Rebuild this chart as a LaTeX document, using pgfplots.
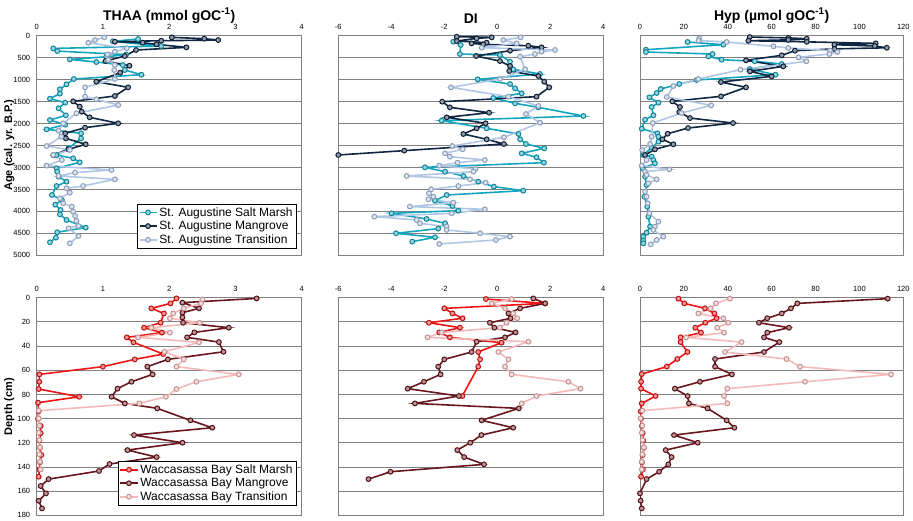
\documentclass[border=0pt]{standalone}
\usepackage{pgfplots}
\pgfplotsset{compat=1.18}
\usepackage{fontspec}
\setmainfont{Liberation Sans}
\definecolor{SAsm}{RGB}{20,166,190}
\definecolor{SAmg}{RGB}{16,38,66}
\definecolor{SAtr}{RGB}{176,198,228}
\definecolor{WBsm}{RGB}{240,20,20}
\definecolor{WBmg}{RGB}{105,22,28}
\definecolor{WBtr}{RGB}{245,185,185}
\pgfplotsset{
  panel/.style={
    scale only axis, y dir=reverse,
    xticklabel pos=top,
    major tick length=0pt,
    ymajorgrids, grid style={black!50, line width=0.8pt},
    axis line style={black!50, line width=0.8pt},
    tick label style={font=\fontsize{7.5}{9}\selectfont},
    xticklabel style={yshift=3pt},
    yticklabel style={xshift=-3pt},
    /pgf/number format/assume math mode=true,
    /pgf/number format/1000 sep={},
    title style={font=\fontsize{14}{16}\selectfont\bfseries, yshift=3pt},
    ylabel style={font=\fontsize{11}{13}\selectfont\bfseries, at={(axis description cs:-0.103,0.5)}, anchor=center},
    legend style={font=\fontsize{12}{13}\selectfont, draw=black, line width=0.6pt, cells={anchor=west}, inner sep=1.5pt, row sep=-0.5pt},
    legend cell align=left,
  },
  toprow/.style={panel, width=265pt, height=219.6pt, ymin=0, ymax=5000, ytick={0,500,...,5000}},
  botrow/.style={panel, width=265pt, height=217.7pt, ymin=0, ymax=180, ytick={0,20,...,180}},
  ser/.style={color=#1, line width=1.6pt, mark=*, mark size=2.4pt, mark options={solid, line width=1pt, fill=#1!45!white, draw=#1!80!black}},
}
\begin{document}
\begin{tikzpicture}
\path[use as bounding box] (0,0) rectangle (913pt,-521pt);

% ---------------- TOP ROW ----------------
\begin{axis}[toprow, at={(36.7pt,-35.7pt)}, anchor=north west,
  xmin=0, xmax=4, xtick={0,1,2,3,4},
  title={THAA (mmol gOC\textsuperscript{-1})},
  ylabel={Age (cal. yr. B.P.)},
  legend style={at={(0.98,0.03)}, anchor=south east}]
\addplot[ser=SAsm] coordinates {(1.53,76)(1.15,128)(1.88,235)(0.25,290)(0.31,350)(1.35,430)(1.05,480)(0.5,540)(0.9,600)(1.3,668)(1.33,781)(1.58,888)(0.56,986)(0.45,1108)(0.35,1221)(0.35,1320)(0.2,1434)(0.43,1525)(0.33,1654)(0.44,1813)(0.2,1920)(0.43,2026)(0.15,2132)(0.67,2223)(0.67,2337)(0.48,2564)(0.3,2716)(0.55,2792)(0.65,2883)(0.3,3020)(0.31,3096)(0.33,3209)(0.45,3323)(0.3,3422)(0.23,3627)(0.38,3740)(0.28,3847)(0.36,3968)(0.35,4067)(0.45,4196)(0.74,4370)(0.31,4476)(0.29,4598)(0.2,4704)};
\addlegendentry{St. Augustine Salt Marsh}
\addplot[ser=SAmg] coordinates {(2.04,38)(2.53,68)(2.74,99)(1.88,114)(1.18,137)(1.6,160)(1.81,197)(2.26,266)(1.5,326)(1.33,463)(1.04,577)(1.4,683)(1.26,842)(0.9,1047)(1.38,1176)(1.18,1373)(0.55,1495)(0.65,1616)(0.68,1730)(0.8,1859)(1.23,1995)(0.73,2094)(0.43,2223)(0.44,2337)(0.74,2473)(0.48,2587)(0.25,2720)};
\addlegendentry{St. Augustine Mangrove}
\addplot[ser=SAtr] coordinates {(1.02,38)(0.88,99)(0.78,160)(1.36,288)(1.18,364)(1.07,425)(1.08,554)(1.18,668)(1.17,781)(1.18,986)(0.73,1176)(0.73,1388)(0.9,1449)(1.23,1578)(0.6,1768)(0.4,1995)(0.33,2162)(0.37,2299)(0.15,2511)(0.5,2602)(0.25,2716)(0.38,2830)(0.15,2959)(1.13,3058)(0.58,3118)(0.33,3194)(1.18,3270)(0.7,3422)(0.45,3475)(0.5,3573)(0.35,3702)(0.4,3816)(0.53,3892)(0.55,4006)(0.58,4105)(0.6,4218)(0.63,4332)(0.48,4385)(0.63,4560)(0.5,4727)};
\addlegendentry{St. Augustine Transition}
\end{axis}

\begin{axis}[toprow, at={(338.3pt,-35.7pt)}, anchor=north west,
  xmin=-6, xmax=4, xtick={-6,-4,-2,0,2,4}, yticklabels={},
  title={DI}]
\addplot[ser=SAsm] coordinates {(-1.66,137)(-1.38,212)(-1.41,417)(0.1,440)(0.48,592)(0.6,766)(1.61,872)(-0.74,994)(0.48,1100)(0.67,1199)(0.92,1312)(-0.15,1419)(0.67,1540)(1.55,1631)(3.25,1828)(-2.1,1935)(-0.4,2109)(0.8,2238)(0.86,2360)(1.08,2466)(1.77,2564)(0.92,2678)(1.48,2769)(1.76,2891)(-2.73,2997)(-1.97,3096)(-1.28,3194)(-0.72,3323)(-0.13,3437)(0.98,3528)(-1.91,3627)(-2.35,3756)(-1.69,3877)(-1.47,3983)(-3.99,4044)(-2.67,4173)(-1.97,4272)(-2.23,4393)(-3.82,4499)(-2.35,4590)(-3.21,4689)};
\addplot[ser=SAmg] coordinates {(-1.53,23)(-0.21,38)(-0.78,61)(-1.53,121)(-0.4,159)(-0.97,175)(-0.53,197)(1.17,228)(1.67,266)(0.48,341)(-0.8,463)(0.1,577)(0.48,690)(0.45,804)(1.55,918)(1.77,1047)(1.96,1176)(1.48,1388)(-2.08,1502)(-1.79,1631)(-0.31,1753)(-1.91,1859)(-0.44,1995)(-0.78,2109)(-1.28,2238)(-0.4,2360)(0.25,2466)(-3.51,2617)(-6.0,2716)};
\addplot[ser=SAtr] coordinates {(0.88,38)(0.23,99)(0.73,175)(-0.59,273)(2.18,326)(1.67,364)(1.42,417)(0.86,478)(1.05,766)(0.1,986)(-1.75,1176)(0.42,1388)(1.55,1600)(1.08,1783)(1.61,1980)(0.25,2314)(-1.7,2511)(-1.31,2587)(-1.97,2678)(-1.79,2754)(-0.47,2830)(-1.5,2891)(-2.19,2959)(-0.82,3035)(-0.9,3096)(-3.42,3194)(-1.03,3270)(-0.44,3346)(-1.47,3422)(-2.5,3498)(-2.58,3589)(-2.41,3664)(-2.6,3725)(-1.66,3801)(-3.3,3892)(-0.47,3953)(-1.72,4044)(-4.64,4120)(-3.04,4196)(-2.92,4272)(-1.91,4347)(-1.91,4423)(-0.65,4499)(0.48,4575)(-0.05,4651)(-2.19,4742)};
\end{axis}

\begin{axis}[toprow, at={(640pt,-35.7pt)}, anchor=north west, width=263.3pt,
  xmin=0, xmax=120, xtick={0,20,...,120}, yticklabels={},
  title={Hyp (µmol gOC\textsuperscript{-1})}]
\addplot[ser=SAsm] coordinates {(21.7,143)(38,205)(2.7,319)(2.7,372)(33.1,417)(31.2,470)(37.2,546)(52.3,583)(64.6,645)(50,760)(61.7,888)(25.8,1009)(17.9,1100)(9.4,1214)(7.6,1305)(4.3,1403)(8.4,1525)(5.3,1624)(6.1,1813)(2.3,1913)(0.8,2118)(7.9,2223)(8.4,2299)(8.4,2413)(5.3,2550)(1.5,2716)(5.3,2754)(6.1,2830)(6.8,2906)(1.2,3020)(2.3,3209)(3,3399)(2,3664)(3.3,3892)(3.8,4120)(4.6,4347)(3,4484)(1.5,4575)(1.5,4666)(1.5,4727)};
\addplot[ser=SAmg] coordinates {(50,30)(67.6,50)(76,70)(67.6,95)(49.4,115)(76,140)(107.4,175)(88.6,205)(107,235)(112.5,275)(88.6,300)(70.6,341)(64.6,447)(48.3,561)(65.3,698)(50.1,812)(60,926)(36.9,1055)(48.3,1176)(36.9,1381)(14.7,1495)(18.2,1624)(17.9,1738)(22.8,1875)(42.4,1989)(21.9,2102)(12.6,2232)(10.2,2360)(15.2,2473)(6.8,2587)(2.3,2716)};
\addplot[ser=SAtr] coordinates {(27,60)(26.7,110)(39.5,143)(60.8,242)(67.6,280)(86.6,341)(90,372)(86.3,417)(72.2,493)(75.8,583)(45.8,774)(26.6,986)(15.2,1146)(12.2,1396)(32.4,1585)(18.9,1761)(5.8,1989)(5.3,2299)(4.6,2466)(1,2602)(3,2830)(0.8,2959)(13.4,3042)(2.3,3096)(3,3171)(7.6,3270)(3.8,3361)(2.3,3551)(3,3664)(3.5,3816)(4.3,4044)(8.4,4234)(6.8,4347)(6.1,4423)(10.6,4575)(7.6,4651)(4.9,4750)};
\end{axis}

% ---------------- BOTTOM ROW ----------------
\begin{axis}[botrow, at={(36.7pt,-297.7pt)}, anchor=north west,
  xmin=0, xmax=4, xtick={0,1,2,3,4},
  ylabel={Depth (cm)},
  legend style={at={(0.98,0.045)}, anchor=south east}]
\addplot[ser=WBsm] coordinates {(2.11,0.6)(2.02,4.7)(1.73,8.8)(1.92,13)(1.87,20.7)(1.62,24.8)(1.89,28.9)(1.36,32.8)(1.46,36.9)(1.91,46.6)(1.48,51)(1.0,57)(0.04,63.4)(0.04,69.5)(0.03,75.5)(0.64,81.9)(0.02,86.8)(0.03,94)(0.02,100)(0.06,106)(0.06,112)(0.04,118)(0.05,124)(0.07,130)(0.05,136)(0.04,142)(0.03,148)};
\addlegendentry{Waccasassa Bay Salt Marsh}
\addplot[ser=WBmg] coordinates {(3.32,0.6)(2.2,4.1)(2.45,8.8)(2.2,12.4)(2.2,16.3)(2.21,20.7)(2.9,24.8)(2.38,28.7)(2.27,32.8)(2.75,36.7)(2.82,44.7)(1.98,51)(1.67,57)(1.75,63.4)(1.43,69.5)(1.22,75.2)(1.13,81.9)(1.33,87.4)(1.82,91.5)(2.32,101.4)(2.65,107.5)(1.47,113.6)(2.2,119.9)(1.37,126)(1.81,131.8)(1.1,137.5)(0.94,143.3)(0.18,150)(0.06,155.7)(0.14,161.8)(0.03,167.9)(0.08,174.2)};
\addlegendentry{Waccasassa Bay Mangrove}
\addplot[ser=WBtr] coordinates {(2.5,1.4)(2.48,4.7)(2.22,8.8)(2.06,13)(2.01,17)(2.46,20.7)(1.73,24.8)(2.01,28.9)(1.53,32.8)(2.45,36.9)(1.93,44.7)(2.22,51)(2.11,57)(3.05,63.4)(2.41,69.5)(2.11,75.5)(1.95,81.9)(1.55,87.4)(0.03,93.4)(0.03,99.8)(0.04,105.8)(0.03,111.6)(0.04,117.7)(0.05,123.8)(0.04,129.5)(0.05,135.6)(0.06,142)};
\addlegendentry{Waccasassa Bay Transition}
\end{axis}

\begin{axis}[botrow, at={(338.3pt,-297.7pt)}, anchor=north west,
  xmin=-6, xmax=4, xtick={-6,-4,-2,0,2,4}, yticklabels={}]
\addplot[ser=WBsm] coordinates {(-0.43,1.1)(1.8,4.7)(-2.0,8.8)(-1.69,13)(-1.31,17)(-2.58,20.7)(-1.41,24.8)(-2.19,28.7)(-1.79,32.8)(0.16,37.2)(-0.72,44.9)(-0.65,51)(-0.72,57)(-1.32,81.3)};
\addplot[ser=WBmg] coordinates {(1.36,0.6)(1.81,4.7)(0.86,8.8)(0.42,13)(0.5,17)(-0.28,20.7)(-0.11,24.8)(0.69,28.7)(0.29,32.8)(-0.78,36.4)(-0.97,44.9)(-2.0,51)(-2.23,57)(-2.14,63.4)(-2.77,69.5)(-3.38,75.2)(-1.45,81.3)(-3.11,87.4)(0.81,91.5)(-0.59,101.4)(0.6,107.5)(-0.6,113.6)(-1.02,119.9)(-1.51,126)(-1.25,131.8)(-0.5,137.8)(-4.03,143.9)(-4.86,150)};
\addplot[ser=WBtr] coordinates {(0.54,1.1)(-0.21,4.7)(0.29,8.8)(0.6,13)(0.75,17)(0.35,20.7)(0.1,24.8)(-2.1,28.7)(-2.63,32.8)(1.17,36.4)(0.04,44.9)(0.42,51)(0.29,57)(0.54,63.4)(2.68,69.5)(3.14,75.2)(1.48,81.3)(0.92,87.4)};
\end{axis}

\begin{axis}[botrow, at={(640pt,-297.7pt)}, anchor=north west, width=263.3pt,
  xmin=0, xmax=120, xtick={0,20,...,120}, yticklabels={}]
\addplot[ser=WBsm] coordinates {(17.5,0.8)(20.2,4.7)(29.6,8.8)(33.9,13)(34.9,17)(29.8,20.7)(25.2,24.8)(27.8,28.9)(18.5,32.8)(18.5,36.7)(21.6,44.9)(17,50.7)(12.2,57)(0.8,63.1)(0.5,69.5)(0.5,75.2)(7.1,81.3)(0.8,87.4)(0.3,94)(0.5,100)(0.9,106)(1.2,112)(1.5,118)(1.8,124)(1.2,130)(0.9,136)(1.3,142)(0.5,148)};
\addplot[ser=WBmg] coordinates {(112.9,0.8)(71.7,4.7)(68.8,8.8)(64.6,13)(58,17)(54.2,20.7)(67.9,24.8)(58,28.9)(56.5,32.8)(63.5,36.7)(56.5,44.9)(34.2,50.7)(34.2,57)(41.9,63.4)(27.3,69.5)(15.9,75.2)(21.7,81.3)(22.3,87.4)(30.8,91.5)(39.5,101.4)(43,107.5)(15.5,113.6)(26.3,119.9)(11.7,126)(14.4,131.8)(12.9,137.8)(8.7,143.9)(3.0,150)(0,161.8)(0.3,167.9)(0.8,174.2)};
\addplot[ser=WBtr] coordinates {(41,0.8)(34.6,4.7)(32.2,8.8)(26.6,13)(38,17)(40.3,20.7)(35.2,24.8)(38.3,28.9)(21,32.8)(46.3,36.7)(38.7,44.9)(66.8,50.7)(72.9,57)(114.4,63.4)(75.2,69.5)(39.8,75.2)(38.3,81.3)(39.8,87.4)(1.1,93.4)(0.3,99.8)(1.1,105.8)(0.8,111.6)(1.2,117.7)(1.8,123.8)(1.1,129.5)(0.8,135.6)(0.8,142)};
\end{axis}
\end{tikzpicture}
\end{document}
